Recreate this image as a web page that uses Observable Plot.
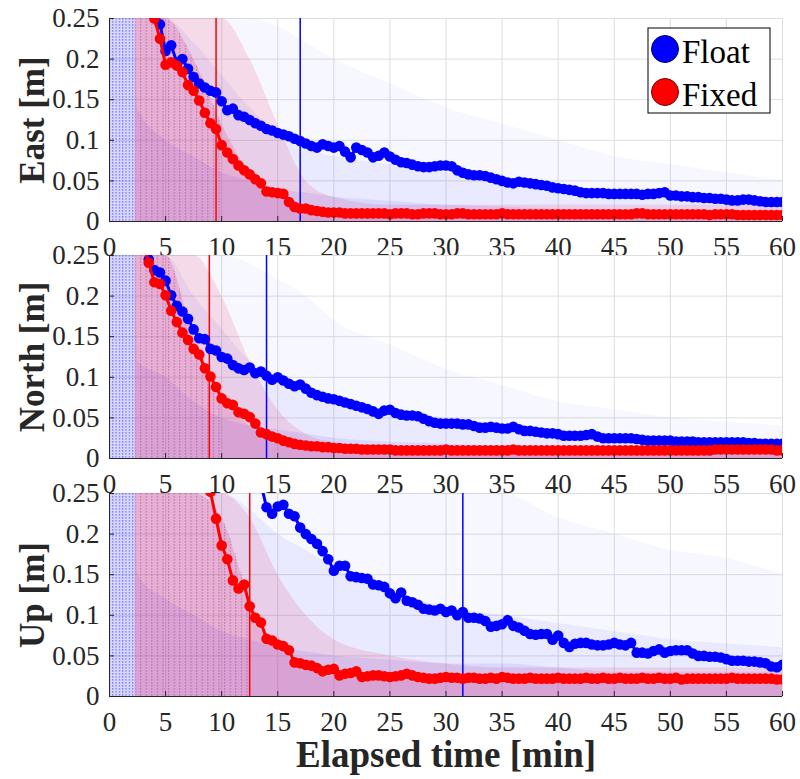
<!DOCTYPE html>
<html><head><meta charset="utf-8">
<script src="https://cdn.jsdelivr.net/npm/d3@7"></script>
<script src="https://cdn.jsdelivr.net/npm/@observablehq/plot@0.6"></script>
<style>
body{margin:0;background:#fff;}
#chart{position:relative;width:800px;height:779px;font-family:"Liberation Serif",serif;overflow:hidden;}
#chart > svg{position:absolute;left:0;}
</style></head>
<body><div id="chart"></div>
<script>
// ---- axes ----
const xTicks = [0,5,10,15,20,25,30,35,40,45,50,55,60];
const yTicks = [0,0.05,0.1,0.15,0.2,0.25];
const yTickLabels = ["0","0.05","0.1","0.15","0.2","0.25"];
const panelLabels = ["East [m]","North [m]","Up [m]"];
const xTitle = "Elapsed time [min]";
const seriesNames = ["Float","Fixed"];
const STEP = 0.5; // minutes between epochs of the mean curves

// ---- mean error curves (values every 0.5 min from their start time) ----
const eastFloatStart = 4.0;
const eastFloat = [
 .275,.243,.210,.217,.196,.200,.188,.178,.170,.165,
 .161,.159,.148,.137,.139,.131,.129,.125,.121,.118,
 .114,.112,.109,.107,.105,.102,.099,.096,.093,.091,
 .095,.093,.091,.093,.086,.079,.091,.088,.085,.079,
 .081,.085,.080,.076,.073,.072,.070,.068,.067,.067,
 .068,.069,.069,.068,.063,.060,.058,.057,.057,.056,
 .054,.052,.050,.048,.047,.049,.048,.047,.046,.045,
 .044,.042,.041,.040,.039,.038,.036,.035,.035,.035,
 .035,.034,.034,.034,.034,.034,.034,.033,.034,.034,
 .035,.036,.032,.032,.031,.031,.030,.030,.029,.029,
 .028,.028,.027,.026,.026,.027,.027,.026,.025,.024,
 .024,.024,.024];
const eastFixedStart = 4.0;
const eastFixed = [
 .250,.225,.193,.196,.192,.184,.168,.161,.149,.134,
 .121,.114,.094,.085,.077,.069,.063,.058,.052,.047,
 .037,.036,.035,.034,.024,.018,.016,.016,.014,.013,
 .012,.011,.011,.011,.010,.010,.010,.010,.010,.010,
 .010,.010,.009,.010,.010,.010,.009,.009,.010,.010,
 .010,.009,.009,.009,.010,.010,.009,.009,.009,.009,
 .009,.009,.010,.009,.009,.009,.009,.009,.009,.009,
 .009,.009,.009,.009,.009,.009,.009,.009,.009,.009,
 .009,.009,.009,.009,.009,.009,.010,.010,.009,.009,
 .009,.009,.009,.009,.009,.009,.009,.009,.009,.008,
 .009,.009,.009,.009,.008,.008,.008,.008,.008,.008,
 .008,.008,.008];
const northFloatStart = 3.0;
const northFloat = [
 .275,.245,.232,.229,.219,.201,.188,.181,.172,.159,
 .148,.147,.135,.133,.125,.123,.115,.111,.109,.112,
 .105,.107,.102,.097,.100,.096,.092,.089,.091,.086,
 .081,.078,.076,.074,.073,.071,.069,.067,.065,.063,
 .061,.058,.055,.059,.060,.056,.054,.053,.053,.052,
 .049,.046,.044,.043,.043,.043,.043,.042,.042,.040,
 .038,.038,.039,.038,.037,.037,.039,.036,.034,.034,
 .033,.032,.031,.031,.030,.028,.028,.028,.028,.029,
 .030,.027,.025,.025,.025,.025,.025,.025,.024,.023,
 .022,.022,.022,.022,.022,.021,.021,.021,.021,.020,
 .020,.020,.020,.020,.020,.020,.020,.020,.019,.019,
 .018,.018,.018,.018,.018];
const northFixedStart = 3.0;
const northFixed = [
 .265,.241,.217,.215,.201,.182,.168,.155,.146,.135,
 .128,.111,.101,.088,.074,.068,.066,.057,.055,.051,
 .043,.032,.030,.027,.025,.022,.020,.018,.017,.016,
 .015,.015,.014,.014,.013,.013,.012,.012,.012,.011,
 .011,.011,.011,.011,.011,.010,.010,.010,.010,.010,
 .010,.010,.010,.010,.011,.010,.010,.010,.010,.010,
 .010,.010,.010,.010,.010,.010,.011,.010,.010,.010,
 .010,.010,.010,.010,.010,.010,.010,.010,.010,.010,
 .010,.010,.010,.010,.010,.010,.010,.010,.010,.010,
 .010,.010,.010,.010,.010,.010,.010,.010,.010,.010,
 .010,.010,.011,.011,.011,.011,.011,.011,.011,.011,
 .011,.011,.011,.010,.010];
const upFloatStart = 13.5;
const upFloat = [
 .262,.233,.225,.234,.236,.225,.222,.208,.200,.194,
 .188,.179,.169,.155,.161,.161,.148,.147,.146,.145,
 .138,.137,.135,.127,.121,.128,.118,.116,.113,.108,
 .107,.106,.108,.104,.106,.100,.104,.097,.097,.096,
 .093,.086,.087,.089,.094,.087,.085,.081,.077,.076,
 .077,.077,.070,.075,.066,.061,.065,.066,.066,.064,
 .063,.063,.064,.066,.064,.063,.066,.054,.054,.053,
 .056,.058,.054,.056,.057,.057,.057,.053,.050,.050,
 .049,.049,.048,.046,.044,.044,.044,.043,.043,.042,
 .041,.037,.036,.039];
const upFixedStart = 8.5;
const upFixed = [
 .300,.252,.219,.186,.169,.143,.133,.138,.111,.097,
 .091,.071,.069,.064,.062,.057,.042,.041,.039,.038,
 .035,.031,.033,.034,.026,.028,.029,.031,.024,.025,
 .026,.026,.025,.024,.025,.026,.028,.026,.024,.023,
 .022,.022,.023,.024,.023,.023,.022,.023,.023,.022,
 .022,.023,.022,.024,.023,.022,.022,.022,.023,.022,
 .022,.022,.022,.023,.022,.022,.022,.022,.023,.022,
 .022,.023,.022,.022,.023,.022,.022,.022,.023,.022,
 .022,.023,.022,.022,.023,.021,.022,.022,.022,.022,
 .022,.022,.022,.022,.023,.022,.022,.022,.022,.022,
 .022,.022,.021,.021];

// ---- convergence times (vertical lines) [min] ----
const convFixed = [9.5, 8.9, 12.5];
const convFloat = [17.0, 14.0, 31.5];

// ---- envelopes of the faint individual-run clouds ----
const hazeT = [0,2.3,2.5,5,7.5,10,12.5,15,17.5,20,25,30,35,40,45,50,55,60];
const eastBlueOuter = [.25,.25,.25,.25,.25,.25,.25,.24,.22,.20,.17,.14,.12,.10,.08,.07,.06,.05];
const eastBlueMid   = [.25,.25,.25,.25,.22,.18,.14,.11,.09,.08,.07,.06,.05,.04,.035,.03,.03,.025];
const eastBlueCore  = [.25,.25,.14,.10,.08,.06,.05,.04,.035,.03,.025,.02,.018,.015,.014,.012,.012,.012];
const eastRedOuter  = [null,.25,.25,.25,.25,.25,.20,.12,.05,.03,.02,.02,.02,.02,.02,.02,.02,.02];
const eastRedCore   = [null,.25,.25,.25,.20,.12,.06,.03,.015,.012,.01,.01,.01,.01,.01,.01,.01,.01];
const northBlueOuter = [.25,.25,.25,.25,.25,.25,.24,.22,.20,.17,.14,.11,.09,.07,.06,.05,.045,.04];
const northBlueMid   = [.25,.25,.25,.25,.20,.16,.12,.10,.08,.07,.06,.05,.04,.035,.03,.025,.022,.02];
const northBlueCore  = [.25,.25,.12,.10,.07,.05,.04,.035,.03,.025,.02,.018,.015,.012,.012,.012,.012,.012];
const northRedOuter  = [null,.25,.25,.25,.25,.20,.12,.06,.03,.02,.015,.015,.015,.015,.015,.015,.015,.015];
const northRedCore   = [null,.25,.25,.25,.15,.08,.04,.02,.012,.01,.01,.01,.01,.01,.01,.01,.01,.01];
const upBlueOuter = [.25,.25,.25,.25,.25,.25,.25,.25,.25,.25,.25,.25,.25,.22,.20,.18,.17,.15];
const upBlueMid   = [.25,.25,.25,.25,.25,.25,.23,.20,.18,.16,.13,.11,.10,.09,.08,.07,.065,.06];
const upBlueCore  = [.25,.25,.15,.12,.10,.08,.07,.06,.055,.05,.045,.04,.04,.035,.03,.03,.03,.03];
const upRedOuter  = [null,.25,.25,.25,.25,.25,.22,.15,.10,.07,.05,.04,.035,.035,.035,.035,.035,.035];
const upRedCore   = [null,.25,.25,.25,.25,.22,.12,.06,.04,.03,.025,.022,.02,.02,.02,.02,.02,.02];
// time span of the dense striped (dotted) part of the cloud [min]
const stripeEnd = [10, 10, 12.5];

// ---- colours / fonts ----
const BLUE = "#0000ff", RED = "#ff0000", AXIS = "#262626", GRID = "#dedede";
const FONT = "Liberation Serif";

const PLOT_H = 203, M_TOP = 18, M_LEFT = 109, M_RIGHT = 18;

function pts(start, vals){ return vals.map((v,i)=>({t:start+i*STEP, v})); }
function hz(arr){ return hazeT.map((t,i)=>({t, v:arr[i]})).filter(d=>d.v!=null); }

// dotted vertical stripes (texture of the individual runs), drawn through Plot's scales
function stripes(envArr, t0, t1, pid, color, dx, op){
  return (index, scales) => {
    const g = d3.create("svg:g");
    const pat = g.append("defs").append("pattern").attr("id", pid)
      .attr("patternUnits","userSpaceOnUse").attr("width", dx).attr("height", 3);
    pat.append("rect").attr("x",0).attr("y",0).attr("width",1.2).attr("height",1.7)
      .attr("fill", color).attr("fill-opacity", op);
    const data = hz(envArr).filter(d => d.t >= t0 && d.t <= t1);
    const ar = d3.area().x(d=>scales.x(d.t)).y0(scales.y(0)).y1(d=>scales.y(Math.min(d.v,0.25))).curve(d3.curveMonotoneX);
    g.append("path").attr("d", ar(data)).attr("fill", `url(#${pid})`);
    return g.node();
  };
}

function panel(o, k){
  const area = (arr, fill, op) => Plot.areaY(hz(arr), {x:"t", y1:0, y2:"v", fill, fillOpacity:op, curve:"monotone-x", clip:true});
  const tickLenY = 0.25*5/PLOT_H, tickLenX = 60*5/(800-M_LEFT-M_RIGHT);
  const svg = Plot.plot({
    width:800, height:M_TOP+PLOT_H+o.mb,
    marginTop:M_TOP, marginLeft:M_LEFT, marginRight:M_RIGHT, marginBottom:o.mb,
    style:{background:"transparent", fontSize:"27px", color:AXIS, overflow:"visible"},
    x:{domain:[0,60], axis:null},
    y:{domain:[0,0.25], axis:null},
    marks:[
      Plot.frame({fill:"white", stroke:GRID}),
      Plot.gridX(xTicks, {stroke:GRID, strokeOpacity:1}),
      Plot.gridY(yTicks, {stroke:GRID, strokeOpacity:1}),
      area(o.h.blueOuter, "#3b3bff", 0.045),
      area(o.h.blueMid, "#3b3bff", 0.07),
      area(o.h.blueCore, "#3b3bff", 0.10),
      area(o.h.redOuter, "#e82a66", 0.14),
      area(o.h.redCore, "#d82a78", 0.19),
      stripes(o.h.blueOuter, 0, 2.3, "sb"+k, "#3030ff", 3.3, 0.55),
      stripes(o.h.redCore, 2.3, o.sEnd, "sr"+k, "#a02a80", 5.6, 0.4),
      Plot.ruleX([o.cFixed], {x:d=>d, stroke:RED, strokeWidth:1.5}),
      Plot.ruleX([o.cFloat], {x:d=>d, stroke:BLUE, strokeWidth:1.5}),
      Plot.line(o.fl, {x:"t", y:"v", stroke:BLUE, strokeWidth:3, clip:true}),
      Plot.dot(o.fl, {x:"t", y:"v", r:5.3, fill:BLUE, clip:true}),
      Plot.line(o.fx, {x:"t", y:"v", stroke:RED, strokeWidth:3, clip:true}),
      Plot.dot(o.fx, {x:"t", y:"v", r:5.3, fill:RED, clip:true}),
      Plot.ruleY([0], {stroke:AXIS}),
      Plot.ruleX([0], {stroke:AXIS}),
      Plot.ruleX(xTicks, {x:d=>d, y1:0, y2:tickLenY, stroke:AXIS}),
      Plot.ruleY(yTicks, {y:d=>d, x1:0, x2:tickLenX, stroke:AXIS}),
      Plot.text(xTicks, {x:d=>d, text:d=>String(d), frameAnchor:"bottom", textAnchor:"middle", lineAnchor:"top", dy:15, fontSize:27, fontFamily:FONT, fill:AXIS}),
      Plot.text(yTicks, {y:d=>d, text:(d,i)=>yTickLabels[i], frameAnchor:"left", textAnchor:"end", dx:-10, fontSize:27, fontFamily:FONT, fill:AXIS}),
      Plot.text([o.label], {text:d=>d, frameAnchor:"left", textAnchor:"middle", rotate:-90, dx:-77, fontSize:35, fontWeight:"bold", fontFamily:FONT, fill:AXIS}),
      ...(o.xTitle ? [Plot.text([o.xTitle], {text:d=>d, frameAnchor:"bottom", textAnchor:"middle", dy:70, fontSize:37, fontWeight:"bold", fontFamily:FONT, fill:AXIS})] : [])
    ]
  });
  svg.style.top = o.top + "px";
  svg.setAttribute("font-family", FONT);
  return svg;
}

const chart = document.getElementById("chart");
const panels = [
  {label:panelLabels[0], fl:pts(eastFloatStart,eastFloat), fx:pts(eastFixedStart,eastFixed), cFixed:convFixed[0], cFloat:convFloat[0], sEnd:stripeEnd[0],
   h:{blueOuter:eastBlueOuter, blueMid:eastBlueMid, blueCore:eastBlueCore, redOuter:eastRedOuter, redCore:eastRedCore}, top:0, mb:40},
  {label:panelLabels[1], fl:pts(northFloatStart,northFloat), fx:pts(northFixedStart,northFixed), cFixed:convFixed[1], cFloat:convFloat[1], sEnd:stripeEnd[1],
   h:{blueOuter:northBlueOuter, blueMid:northBlueMid, blueCore:northBlueCore, redOuter:northRedOuter, redCore:northRedCore}, top:237, mb:40},
  {label:panelLabels[2], fl:pts(upFloatStart,upFloat), fx:pts(upFixedStart,upFixed), cFixed:convFixed[2], cFloat:convFloat[2], sEnd:stripeEnd[2],
   h:{blueOuter:upBlueOuter, blueMid:upBlueMid, blueCore:upBlueCore, redOuter:upRedOuter, redCore:upRedCore}, top:475, mb:83, xTitle:xTitle}
];
panels.forEach((p,k) => chart.appendChild(panel(p,k)));

// ---- legend ----
const leg = d3.select(chart).append("svg")
  .attr("width",124).attr("height",87)
  .style("position","absolute").style("left","647px").style("top","27px");
leg.append("rect").attr("x",1).attr("y",1).attr("width",122).attr("height",85)
  .attr("fill","white").attr("stroke","#000").attr("stroke-width",1);
const legColors = [BLUE, RED];
seriesNames.forEach((name,i) => {
  const cy = 22 + i*43;
  leg.append("circle").attr("cx",18).attr("cy",cy).attr("r",13.5)
    .attr("fill",legColors[i]).attr("stroke", i===0 ? "#00006a" : "#7a0000").attr("stroke-width",1);
  leg.append("text").attr("x",35).attr("y",cy+14).text(name)
    .attr("font-size",33).attr("fill","#000").attr("font-family", FONT);
});
</script>
</body></html>
